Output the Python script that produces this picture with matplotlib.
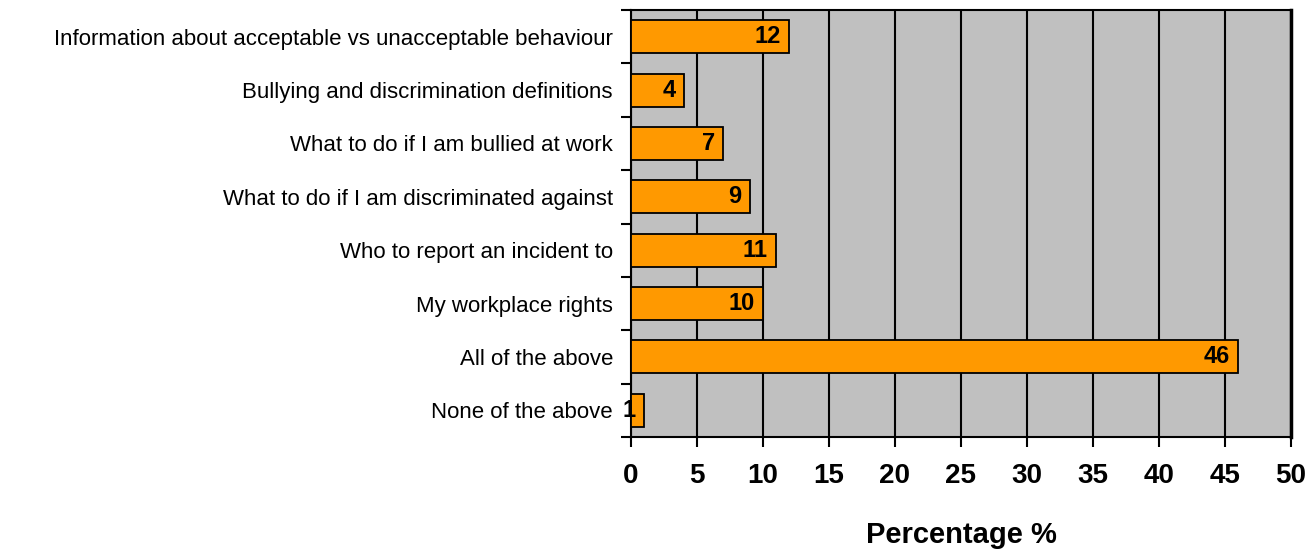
import matplotlib
matplotlib.use("Agg")
import matplotlib.pyplot as plt
from matplotlib.ticker import FixedLocator

categories = [
    "Information about acceptable vs unacceptable behaviour",
    "Bullying and discrimination definitions",
    "What to do if I am bullied at work",
    "What to do if I am discriminated against",
    "Who to report an incident to",
    "My workplace rights",
    "All of the above",
    "None of the above",
]
values = [12, 4, 7, 9, 11, 10, 46, 1]
x_ticks = [0, 5, 10, 15, 20, 25, 30, 35, 40, 45, 50]

plt.rcParams['font.family'] = ['Liberation Sans', 'DejaVu Sans']

fig = plt.figure(figsize=(13.1, 5.5), dpi=100)
ax = fig.add_axes([631/1310, 1-437/550, (1291-631)/1310, (437-10)/550])
ax.set_facecolor('#C0C0C0')

n = len(categories)
ypos = list(range(n))
ax.barh(ypos, values, height=0.62, color='#FF9900', edgecolor='black', linewidth=1.3, zorder=3)
ax.set_xlim(0, 50)
ax.set_ylim(n - 0.5, -0.5)

ax.xaxis.set_major_locator(FixedLocator(x_ticks))
ax.set_xticklabels([str(t) for t in x_ticks], fontsize=20, fontweight='bold')
ax.grid(axis='x', color='black', linewidth=1.5, zorder=1)
ax.tick_params(axis='x', length=7, width=1.5, pad=12)

ax.set_yticks(ypos)
ax.set_yticklabels(categories, fontsize=16)
ax.tick_params(axis='y', which='major', length=0, pad=13)
ax.yaxis.set_minor_locator(FixedLocator([i - 0.5 for i in range(n + 1)]))
ax.tick_params(axis='y', which='minor', length=7, width=1.5)

for s in ax.spines.values():
    s.set_linewidth(1.5)
    s.set_color('black')
ax.spines['right'].set_linewidth(2.5)

for y, v in zip(ypos, values):
    ax.annotate(str(v), xy=(v, y), xytext=(-6, 0), textcoords='offset points',
                ha='right', va='center', fontsize=17, fontweight='bold', zorder=4)

ax.set_xlabel('Percentage %', fontsize=21, fontweight='bold', labelpad=23)

fig.savefig('out.png', dpi=100)
